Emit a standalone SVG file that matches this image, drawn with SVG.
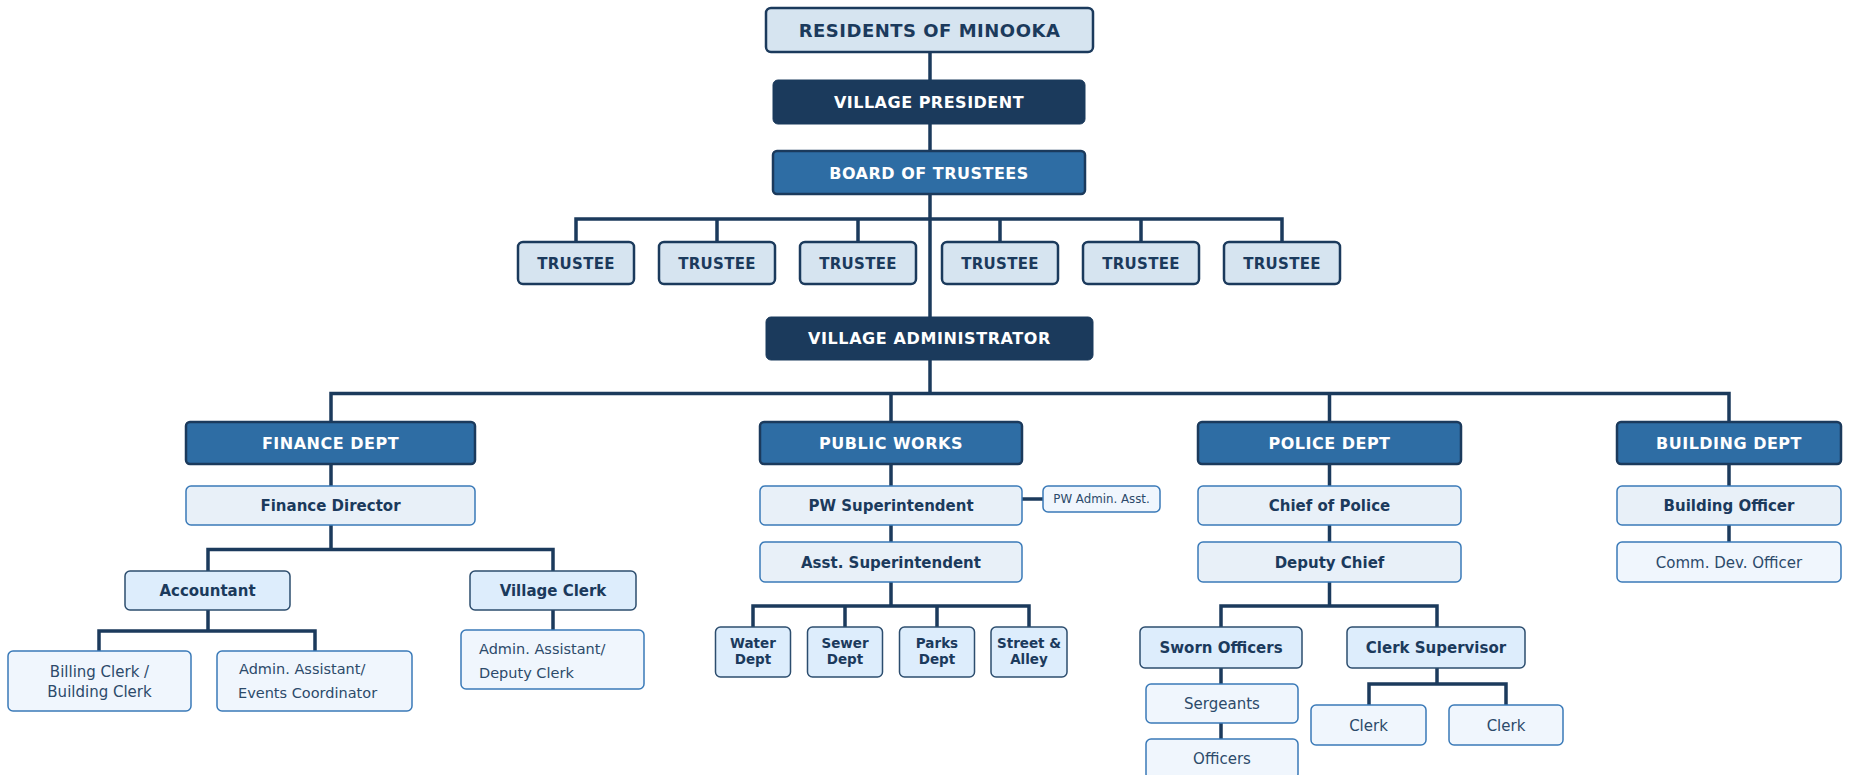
<svg xmlns="http://www.w3.org/2000/svg" width="1853" height="775" viewBox="0 0 1853 775">
<style>
text{font-family:"DejaVu Sans","Liberation Sans",sans-serif;text-anchor:middle}
.top{fill:#d6e4f0;stroke:#1b3a5c;stroke-width:2.5}
.navy{fill:#1b3a5c;stroke:#1b3a5c;stroke-width:1}
.dept{fill:#2e6da4;stroke:#1b3a5c;stroke-width:2.5}
.l2{fill:#e8f0f8;stroke:#3a7ab8;stroke-width:1.5}
.l3{fill:#ddedfc;stroke:#2c4d6e;stroke-width:1.5}
.leaf{fill:#f0f6fd;stroke:#3a7ab8;stroke-width:1.5}
.tw{fill:#ffffff;font-weight:bold;font-size:16px;letter-spacing:0.5px}
.td{fill:#1b3a5c;font-weight:bold;font-size:15px}
.tc{fill:#1b3a5c;font-weight:bold;font-size:15px;letter-spacing:0.3px}
.ts{fill:#1b3a5c;font-weight:bold;font-size:13.5px}
.tr{fill:#2c4a6a;font-size:15px}
.tr14{fill:#2c4a6a;font-size:14.5px;text-anchor:start}
.conn{stroke:#1b3a5c;stroke-width:3.5;fill:none}
</style>
<g id="connectors" class="conn">
<path d="M930 52V393.5"/>
<path d="M576 242V219H1282V242M717 219V242M858 219V242M1000 219V242M1141 219V242"/>
<path d="M331 422V393.5H1729V422M891 393.5V422M1329.5 393.5V422"/>
<path d="M331 464V486M331 525V549.5M208 571V549.5H553V571"/>
<path d="M208 610V631M99 651V631H315V651M553 610V630"/>
<path d="M891 464V486M891 525V542M891 582V606M753 627V606H1029V627M845 606V627M937 606V627"/>
<path d="M1022 499H1043"/>
<path d="M1329.5 464V486M1329.5 525V542M1329.5 582V606M1221 627V606H1437V627"/>
<path d="M1221 668V684M1221 723V739"/>
<path d="M1437 668V684M1369 705V684H1506V705"/>
<path d="M1729 464V486M1729 525V542"/>
</g>
<g id="residents"><rect class="top" x="766" y="8" width="327" height="44" rx="5"/><text x="929.5" y="36.5" style="fill:#1b3a5c;font-weight:bold;font-size:18px;letter-spacing:0.5px">RESIDENTS OF MINOOKA</text></g>
<g id="village-president"><rect class="navy" x="773" y="80" width="312" height="44" rx="5"/><text class="tw" x="929" y="108">VILLAGE PRESIDENT</text></g>
<g id="board-of-trustees"><rect class="dept" x="773" y="151" width="312" height="43" rx="4"/><text class="tw" x="929" y="178.5">BOARD OF TRUSTEES</text></g>
<g id="trustee-1"><rect class="top" x="518" y="242" width="116" height="42" rx="5"/><text class="tc" x="576" y="268.5">TRUSTEE</text></g>
<g id="trustee-2"><rect class="top" x="659" y="242" width="116" height="42" rx="5"/><text class="tc" x="717" y="268.5">TRUSTEE</text></g>
<g id="trustee-3"><rect class="top" x="800" y="242" width="116" height="42" rx="5"/><text class="tc" x="858" y="268.5">TRUSTEE</text></g>
<g id="trustee-4"><rect class="top" x="942" y="242" width="116" height="42" rx="5"/><text class="tc" x="1000" y="268.5">TRUSTEE</text></g>
<g id="trustee-5"><rect class="top" x="1083" y="242" width="116" height="42" rx="5"/><text class="tc" x="1141" y="268.5">TRUSTEE</text></g>
<g id="trustee-6"><rect class="top" x="1224" y="242" width="116" height="42" rx="5"/><text class="tc" x="1282" y="268.5">TRUSTEE</text></g>
<g id="village-administrator"><rect class="navy" x="766" y="317" width="327" height="43" rx="5"/><text class="tw" x="929.5" y="344" style="letter-spacing:0.6px">VILLAGE ADMINISTRATOR</text></g>
<g id="finance-dept"><rect class="dept" x="186" y="422" width="289" height="42" rx="4"/><text class="tw" x="330.5" y="449">FINANCE DEPT</text></g>
<g id="public-works"><rect class="dept" x="760" y="422" width="262" height="42" rx="4"/><text class="tw" x="891" y="449">PUBLIC WORKS</text></g>
<g id="police-dept"><rect class="dept" x="1198" y="422" width="263" height="42" rx="4"/><text class="tw" x="1329.5" y="449">POLICE DEPT</text></g>
<g id="building-dept"><rect class="dept" x="1617" y="422" width="224" height="42" rx="4"/><text class="tw" x="1729" y="449">BUILDING DEPT</text></g>
<g id="finance-director"><rect class="l2" x="186" y="486" width="289" height="39" rx="5"/><text class="td" x="330.5" y="511">Finance Director</text></g>
<g id="accountant"><rect class="l3" x="125" y="571" width="165" height="39" rx="5"/><text class="td" x="207.5" y="596">Accountant</text></g>
<g id="village-clerk"><rect class="l3" x="470" y="571" width="166" height="39" rx="5"/><text class="td" x="553" y="596">Village Clerk</text></g>
<g id="billing-clerk"><rect class="leaf" x="8" y="651" width="183" height="60" rx="5"/><text class="tr" x="99.5" y="677">Billing Clerk /</text><text class="tr" x="99.5" y="697">Building Clerk</text></g>
<g id="admin-events"><rect class="leaf" x="217" y="651" width="195" height="60" rx="5"/><text class="tr14" x="239" y="674">Admin. Assistant/</text><text class="tr14" x="238" y="698">Events Coordinator</text></g>
<g id="admin-deputy"><rect class="leaf" x="461" y="630" width="183" height="59" rx="5"/><text class="tr14" x="479" y="654">Admin. Assistant/</text><text class="tr14" x="479" y="678">Deputy Clerk</text></g>
<g id="pw-superintendent"><rect class="l2" x="760" y="486" width="262" height="39" rx="5"/><text class="td" x="891" y="511">PW Superintendent</text></g>
<g id="pw-admin-asst"><rect class="leaf" x="1043" y="486" width="117" height="26" rx="5"/><text x="1101.5" y="503" style="fill:#2c4a6a;font-size:11.8px">PW Admin. Asst.</text></g>
<g id="asst-superintendent"><rect class="l2" x="760" y="542" width="262" height="40" rx="5"/><text class="td" x="891" y="567.5">Asst. Superintendent</text></g>
<g id="water-dept"><rect class="l3" x="715.5" y="627" width="75" height="50" rx="5"/><text class="ts" x="753" y="648">Water</text><text class="ts" x="753" y="663.5">Dept</text></g>
<g id="sewer-dept"><rect class="l3" x="807.5" y="627" width="75" height="50" rx="5"/><text class="ts" x="845" y="648">Sewer</text><text class="ts" x="845" y="663.5">Dept</text></g>
<g id="parks-dept"><rect class="l3" x="899.5" y="627" width="75" height="50" rx="5"/><text class="ts" x="937" y="648">Parks</text><text class="ts" x="937" y="663.5">Dept</text></g>
<g id="street-alley"><rect class="l3" x="991" y="627" width="76" height="50" rx="5"/><text class="ts" x="1029" y="648">Street &amp;</text><text class="ts" x="1029" y="663.5">Alley</text></g>
<g id="chief-of-police"><rect class="l2" x="1198" y="486" width="263" height="39" rx="5"/><text class="td" x="1329.5" y="511">Chief of Police</text></g>
<g id="deputy-chief"><rect class="l2" x="1198" y="542" width="263" height="40" rx="5"/><text class="td" x="1329.5" y="567.5">Deputy Chief</text></g>
<g id="sworn-officers"><rect class="l3" x="1140" y="627" width="162" height="41" rx="5"/><text class="td" x="1221" y="653">Sworn Officers</text></g>
<g id="clerk-supervisor"><rect class="l3" x="1347" y="627" width="178" height="41" rx="5"/><text class="td" x="1436" y="653">Clerk Supervisor</text></g>
<g id="sergeants"><rect class="leaf" x="1146" y="684" width="152" height="39" rx="5"/><text class="tr" x="1222" y="709">Sergeants</text></g>
<g id="officers"><rect class="leaf" x="1146" y="739" width="152" height="40" rx="5"/><text class="tr" x="1222" y="763.5">Officers</text></g>
<g id="clerk-1"><rect class="leaf" x="1311" y="705" width="115" height="40" rx="5"/><text class="tr" x="1368.5" y="730.5">Clerk</text></g>
<g id="clerk-2"><rect class="leaf" x="1449" y="705" width="114" height="40" rx="5"/><text class="tr" x="1506" y="730.5">Clerk</text></g>
<g id="building-officer"><rect class="l2" x="1617" y="486" width="224" height="39" rx="5"/><text class="td" x="1729" y="511">Building Officer</text></g>
<g id="comm-dev-officer"><rect class="leaf" x="1617" y="542" width="224" height="40" rx="5"/><text class="tr" x="1729" y="567.5">Comm. Dev. Officer</text></g>
</svg>
